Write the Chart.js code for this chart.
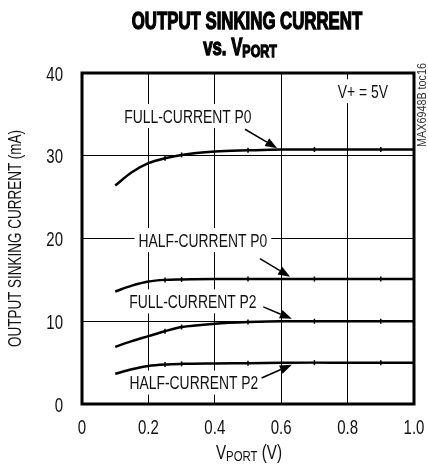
<!DOCTYPE html>
<html>
<head>
<meta charset="utf-8">
<script src="https://cdn.jsdelivr.net/npm/chart.js@4.4.1/dist/chart.umd.min.js"></script>
<style>
  html, body { margin: 0; padding: 0; background: #fff; }
  canvas { display: block; }
</style>
</head>
<body>
<canvas id="sinkChart" width="428" height="465"></canvas>
<script>
// measured curves, VPORT in volts, current in mA
const vport  = [0.1, 0.15, 0.2, 0.25, 0.3, 0.4, 0.5, 0.6, 0.7, 0.8, 0.9, 1.0];
const fullP0 = [26.4, 28.0, 29.1, 29.7, 30.1, 30.5, 30.65, 30.75, 30.75, 30.75, 30.75, 30.75];
const halfP0 = [13.6, 14.3, 14.8, 15.0, 15.05, 15.1, 15.1, 15.1, 15.1, 15.1, 15.1, 15.1];
const fullP2 = [6.9, 7.6, 8.2, 8.8, 9.3, 9.7, 9.9, 10.0, 10.0, 10.0, 10.0, 10.0];
const halfP2 = [3.65, 4.2, 4.6, 4.78, 4.85, 4.9, 4.93, 4.97, 5.0, 5.0, 5.0, 5.0];

const xTickValues = [0, 0.2, 0.4, 0.6, 0.8, 1.0];
const xTickLabels = ["0", "0.2", "0.4", "0.6", "0.8", "1.0"];

// callouts (data units)
const calloutText = ["FULL-CURRENT P0", "HALF-CURRENT P0", "FULL-CURRENT P2", "HALF-CURRENT P2"];
const calloutX = [0.319, 0.364, 0.334, 0.337];
const calloutY = [34.8, 19.8, 12.4, 2.6];
const arrowFrom = [[0.491, 33.2], [0.536, 17.56], [0.546, 11.74], [0.541, 3.14]];
const arrowTo   = [[0.588, 30.9], [0.627, 15.38], [0.632, 10.29], [0.632, 4.75]];

// Liberation Sans squeezed horizontally stands in for Helvetica Narrow
const FONT = '"Liberation Sans", Arial, sans-serif';
const SQ = 0.75;

function pts(values) {
  return vport.map((v, i) => ({ x: v, y: values[i] }));
}

// little vertical dashes on the curves at odd tenths
function dashRadius(ctx) {
  const t = Math.round(vport[ctx.dataIndex] * 10);
  return (t % 2 === 1 && t >= 3) ? 2.5 : 0;
}

function curve(values) {
  return {
    data: pts(values),
    borderColor: "#000",
    borderWidth: 2.5,
    cubicInterpolationMode: "monotone",
    pointStyle: "line",
    rotation: 90,
    pointRadius: dashRadius,
    pointBorderWidth: 1.5,
    pointBorderColor: "#000",
    pointHoverRadius: 0
  };
}

// squeezed text
function txt(ctx, s, x, y, font, align, sq, heavy) {
  ctx.save();
  ctx.font = font;
  ctx.textAlign = align || "left";
  ctx.textBaseline = "alphabetic";
  ctx.translate(x, y);
  ctx.scale(sq || SQ, 1);
  ctx.fillText(s, 0, 0);
  if (heavy) ctx.strokeText(s, 0, 0);
  ctx.restore();
}

function measure(ctx, s, font, sq) {
  ctx.font = font;
  return ctx.measureText(s).width * (sq || SQ);
}

function drawParts(ctx, parts, cx, baseline, sq, heavy) {
  let total = 0;
  parts.forEach(p => { total += measure(ctx, p.t, p.font, sq); });
  let x = cx - total / 2;
  parts.forEach(p => {
    txt(ctx, p.t, x, baseline + (p.dy || 0), p.font, "left", sq, heavy);
    x += measure(ctx, p.t, p.font, sq);
  });
}

function arrow(ctx, x0, y0, x1, y1) {
  const a = Math.atan2(y1 - y0, x1 - x0);
  const len = 12, half = 4.5;
  ctx.beginPath();
  ctx.moveTo(x0, y0);
  ctx.lineTo(x1 - Math.cos(a) * len, y1 - Math.sin(a) * len);
  ctx.lineWidth = 1.5;
  ctx.stroke();
  ctx.beginPath();
  ctx.moveTo(x1, y1);
  ctx.lineTo(x1 - Math.cos(a) * len - Math.sin(a) * half, y1 - Math.sin(a) * len + Math.cos(a) * half);
  ctx.lineTo(x1 - Math.cos(a) * len + Math.sin(a) * half, y1 - Math.sin(a) * len - Math.cos(a) * half);
  ctx.closePath();
  ctx.fill();
}

function boxedLabel(ctx, s, px, py) {
  const f = "18.5px " + FONT;
  const w = measure(ctx, s, f);
  ctx.fillStyle = "#fff";
  ctx.fillRect(px - w / 2 - 4, py - 12, w + 8, 24);
  ctx.fillStyle = "#111";
  txt(ctx, s, px, py + 7, f, "center");
}

const decor = {
  id: "decor",
  beforeDatasetsDraw(chart) {
    const { ctx, scales: { x, y } } = chart;
    ctx.save();
    calloutText.forEach((t, i) => {
      boxedLabel(ctx, t, x.getPixelForValue(calloutX[i]), y.getPixelForValue(calloutY[i]));
    });
    boxedLabel(ctx, "V+ = 5V", x.getPixelForValue(0.846), y.getPixelForValue(37.8));

    ctx.fillStyle = "#000";
    ctx.strokeStyle = "#000";
    arrowFrom.forEach((f, i) => {
      arrow(ctx, x.getPixelForValue(f[0]), y.getPixelForValue(f[1]),
        x.getPixelForValue(arrowTo[i][0]), y.getPixelForValue(arrowTo[i][1]));
    });
    ctx.restore();
  },
  afterDraw(chart) {
    const { ctx, chartArea: a, scales: { x, y } } = chart;
    ctx.save();
    ctx.lineWidth = 3;
    ctx.strokeStyle = "#000";
    ctx.strokeRect(a.left, a.top, a.right - a.left, a.bottom - a.top);

    // tick labels from the scales
    ctx.fillStyle = "#111";
    const tf = "20px " + FONT;
    x.ticks.forEach((t, i) => {
      txt(ctx, xTickLabels[i], x.getPixelForValue(t.value), 434, tf, "center");
    });
    y.ticks.forEach(t => {
      txt(ctx, String(t.value), 63, y.getPixelForValue(t.value) + 7.5, tf, "right");
    });

    // axis titles
    drawParts(ctx, [
      { t: "V", font: "20px " + FONT },
      { t: "PORT", font: "15px " + FONT, dy: 1.5 },
      { t: " (V)", font: "20px " + FONT }
    ], 249, 459, 0.76);

    ctx.save();
    ctx.translate(21, (a.top + a.bottom) / 2);
    ctx.rotate(-Math.PI / 2);
    txt(ctx, "OUTPUT SINKING CURRENT (mA)", 0, 0, "17.5px " + FONT, "center", 0.77);
    ctx.restore();

    // chart title, heavy condensed
    ctx.fillStyle = "#000";
    ctx.strokeStyle = "#000";
    ctx.lineWidth = 1.3;
    drawParts(ctx, [{ t: "OUTPUT SINKING CURRENT", font: "bold 23px " + FONT }], 247, 29, 0.73, true);
    drawParts(ctx, [
      { t: "vs. V", font: "bold 23px " + FONT },
      { t: "PORT", font: "bold 17px " + FONT, dy: 1.5 }
    ], 240, 55, 0.73, true);

    // figure tag on the right edge
    ctx.fillStyle = "#333";
    ctx.translate(426, 105);
    ctx.rotate(-Math.PI / 2);
    txt(ctx, "MAX6948B toc16", 0, 0, "12px " + FONT, "center", 0.9);
    ctx.restore();
  }
};

new Chart(document.getElementById("sinkChart"), {
  type: "line",
  data: {
    datasets: [curve(fullP0), curve(halfP0), curve(fullP2), curve(halfP2)]
  },
  options: {
    responsive: false,
    animation: false,
    layout: { padding: { top: 73, right: 14, left: 0, bottom: 0 } },
    plugins: { legend: { display: false }, tooltip: { enabled: false } },
    scales: {
      x: {
        type: "linear",
        min: 0,
        max: 1,
        afterFit: s => { s.height = 61; },
        afterBuildTicks: s => { s.ticks = xTickValues.map(v => ({ value: v })); },
        ticks: { display: false },
        grid: { color: "#000", lineWidth: 1, drawTicks: false },
        border: { display: false }
      },
      y: {
        min: 0,
        max: 40,
        afterFit: s => { s.width = 82; },
        ticks: { display: false, stepSize: 10 },
        grid: { color: "#000", lineWidth: 1, drawTicks: false },
        border: { display: false }
      }
    }
  },
  plugins: [decor]
});
</script>
</body>
</html>
